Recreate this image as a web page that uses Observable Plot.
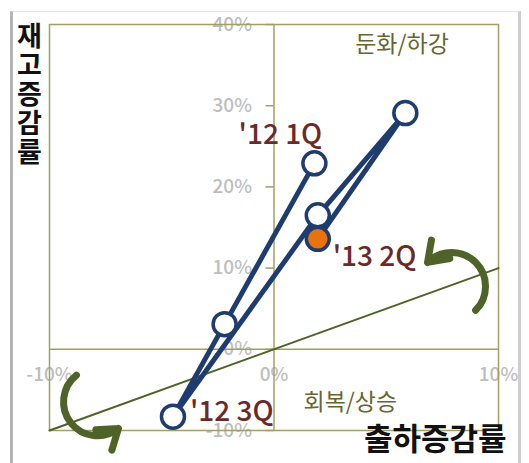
<!DOCTYPE html>
<html>
<head>
<meta charset="utf-8">
<script src="https://cdn.jsdelivr.net/npm/d3@7"></script>
<script src="https://cdn.jsdelivr.net/npm/@observablehq/plot@0.6"></script>
<style>
  html, body { margin: 0; padding: 0; background: #ffffff; }
  #wrap { position: relative; width: 529px; height: 463px; overflow: hidden; font-family: "Noto Sans CJK KR", "Noto Sans", sans-serif; }
  #border { position: absolute; left: 10px; top: 11px; width: 511px; height: 470px; border-left: 3px solid #b4b4b4; border-top: 1px solid #e4e4e4; border-right: 3px solid #cfcfcf; box-sizing: border-box; }
  #chart { position: absolute; left: 0; top: 0; }
  #ytitle { position: absolute; left: 16px; top: 22px; writing-mode: vertical-rl; text-orientation: upright; font-size: 27px; font-weight: 700; letter-spacing: 2px; color: #111; line-height: 1; }
</style>
</head>
<body>
<div id="wrap">
  <div id="border"></div>
  <div id="chart"></div>
  <div id="ytitle">재고증감률</div>
</div>
<script>
// Quarterly shipment growth (x, %) vs inventory growth (y, %)
const quarters = ["'12 1Q", "'12 2Q", "'12 3Q", "'12 4Q", "'13 1Q", "'13 2Q"];
const shipmentGrowth = [1.8, -2.2, -4.5, 1.95, 5.85, 1.95];
const inventoryGrowth = [22.9, 3.1, -8.3, 16.5, 29.1, 13.6];

// Axis ticks
const xTicks = [-10, 0, 10];
const yTicks = [-10, 0, 10, 20, 30, 40];

// Reference (cycle) line: inventory growth = shipment growth
const trendX = [-10, 10];
const trendY = [-10, 10];

// Quadrant annotations
const quadrantNames = ["둔화/하강", "회복/상승"];
const quadrantX = [5.7, 3.4];
const quadrantY = [37.5, -6.6];

// Curved cycle arrows (tail -> head)
const arrowX1 = [-8.8, 8.98];
const arrowY1 = [-3.2, 4.8];
const arrowX2 = [-6.93, 6.84];
const arrowY2 = [-9.75, 10.7];

const xTitle = "출하증감률";

const pts = quarters.map((q, i) => ({q, x: shipmentGrowth[i], y: inventoryGrowth[i], i}));
const trend = trendX.map((x, i) => ({x, y: trendY[i]}));
const quads = quadrantNames.map((t, i) => ({t, x: quadrantX[i], y: quadrantY[i]}));
const arrows = arrowX1.map((x1, i) => ({x1, y1: arrowY1[i], x2: arrowX2[i], y2: arrowY2[i]}));

const navy = "#1f3c6e";
const olive = "#a0a062";
const dark = "#4f6228";
const maroon = "#6a2a28";
const tickGray = "#bdbdbd";

const chart = Plot.plot({
  width: 529,
  height: 463,
  marginLeft: 49,
  marginRight: 31,
  marginTop: 24,
  marginBottom: 33,
  x: {domain: [-10, 10], axis: null},
  y: {domain: [-10, 40], axis: null},
  style: {fontFamily: "'Noto Sans CJK KR', 'Noto Sans', sans-serif", background: "transparent", overflow: "visible"},
  marks: [
    // tick labels (drawn beneath lines)
    Plot.text(yTicks, {x: 0, y: d => d, text: d => `${d}%`, textAnchor: "end", dx: -22, fill: tickGray, fontSize: 19, fontWeight: 500}),
    Plot.text(xTicks, {x: d => d, y: 0, text: d => `${d}%`, dy: 26, fill: tickGray, fontSize: 19, fontWeight: 500}),
    Plot.ruleY(yTicks, {y: d => d, x1: 0, x2: -0.36, stroke: olive, strokeWidth: 1.5}),
    // frame and zero lines
    Plot.frame({stroke: olive, strokeWidth: 1.5}),
    Plot.ruleX([0], {stroke: olive, strokeWidth: 1.5}),
    Plot.ruleY([0], {stroke: olive, strokeWidth: 1.5}),
    // reference line
    Plot.line(trend, {x: "x", y: "y", stroke: dark, strokeWidth: 2}),
    // cycle arrows
    Plot.arrow(arrows, {x1: "x1", y1: "y1", x2: "x2", y2: "y2", bend: -90, stroke: dark, strokeWidth: 7, headLength: 10, headAngle: 70}),
    // quadrant labels
    Plot.text(quads, {x: "x", y: "y", text: "t", fill: "#66662e", fontSize: 23}),
    // data path
    Plot.line(pts, {x: "x", y: "y", stroke: navy, strokeWidth: 5, strokeLinejoin: "round"}),
    Plot.dot(pts, {x: "x", y: "y", r: 11.5, fill: d => d.i === pts.length - 1 ? "#e8730c" : "#ffffff", stroke: navy, strokeWidth: 3.5}),
    // point labels
    Plot.text(pts.filter(d => d.i === 0), {x: "x", y: "y", text: "q", fill: maroon, fontSize: 28, fontWeight: 500, dx: -34, dy: -28}),
    Plot.text(pts.filter(d => d.i === 2), {x: "x", y: "y", text: "q", fill: maroon, fontSize: 28, fontWeight: 500, textAnchor: "start", dx: 17, dy: -5}),
    Plot.text(pts.filter(d => d.i === 5), {x: "x", y: "y", text: "q", fill: maroon, fontSize: 28, fontWeight: 500, textAnchor: "start", dx: 15, dy: 18}),
    // x-axis title
    Plot.text([xTitle], {frameAnchor: "bottom-right", text: d => d, textAnchor: "end", dx: 8, dy: 19, fontSize: 31, fontWeight: 700, fill: "#111"})
  ]
});
document.getElementById("chart").appendChild(chart);
</script>
</body>
</html>
